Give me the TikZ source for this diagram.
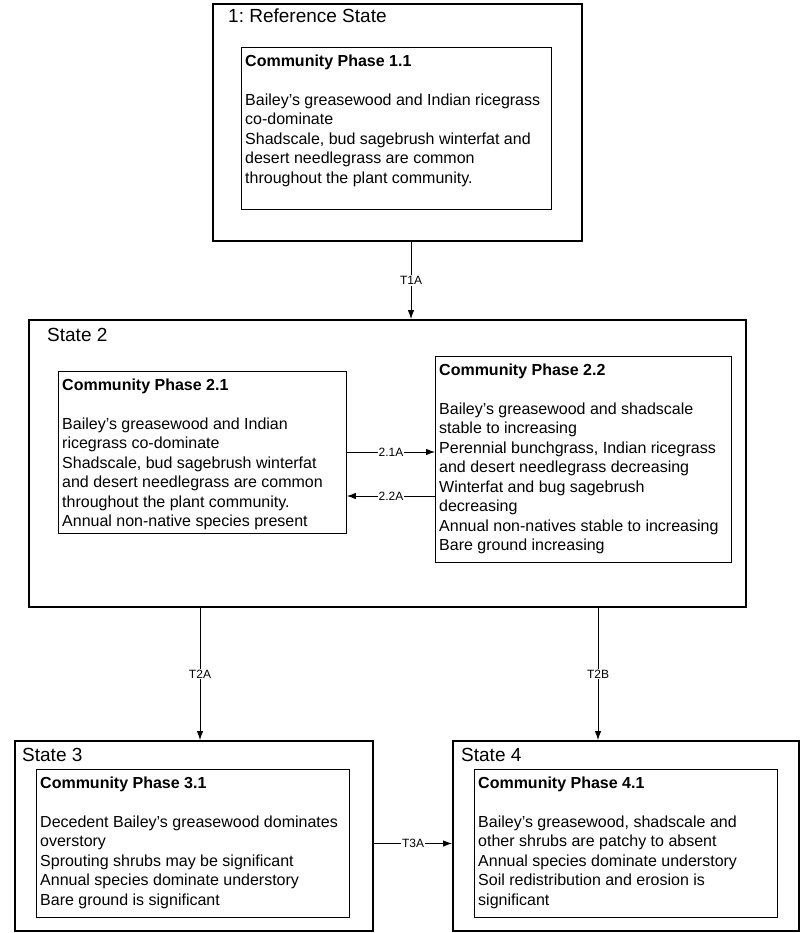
\documentclass[tikz,border=0pt]{standalone}
\usepackage{fontspec}
\setmainfont{Liberation Sans}
\usetikzlibrary{arrows.meta}
\frenchspacing

\tikzset{
  statebox/.style={draw, line width=2.2pt, anchor=north west, inner sep=0pt},
  phasebox/.style={draw, line width=0.9pt, anchor=north west, inner sep=0pt},
  phasetext/.style={anchor=north west, align=left, inner xsep=4pt, inner ysep=7.5pt,
    font=\fontsize{16}{19.5}\selectfont},
  statetitle/.style={anchor=base west, inner sep=0pt, font=\fontsize{19}{22}\selectfont},
  trans/.style={-{Latex[length=9pt,width=6.5pt]}, line width=0.8pt},
  translabel/.style={fill=white, inner sep=1pt, font=\fontsize{12}{13}\selectfont},
}

\begin{document}
\begin{tikzpicture}[x=1pt, y=-1pt]
\useasboundingbox (0,0) rectangle (800,933);
\def\gap{\\[19.5pt]}

% REFERENCE STATE
\node[statebox, minimum width=369pt, minimum height=237pt] (ref) at (212,3) {};
\node[statetitle] (reftitle) at (228,23) {1: Reference State};
\node[phasebox, minimum width=310pt, minimum height=162pt] (cp11) at (241,47) {};
\node[phasetext] (cp11text) at (cp11.north west) {\textbf{Community Phase 1.1}\gap
Bailey's greasewood and Indian ricegrass\\
co-dominate\\
Shadscale, bud sagebrush winterfat and\\
desert needlegrass are common\\
throughout the plant community.};

% STATE 2
\node[statebox, minimum width=717pt, minimum height=287pt] (st2) at (28,319) {};
\node[statetitle] (st2title) at (47,341) {State 2};
\node[phasebox, minimum width=288pt, minimum height=162pt] (cp21) at (58,371) {};
\node[phasetext] (cp21text) at (cp21.north west) {\textbf{Community Phase 2.1}\gap
Bailey's greasewood and Indian\\
ricegrass co-dominate\\
Shadscale, bud sagebrush winterfat\\
and desert needlegrass are common\\
throughout the plant community.\\
Annual non-native species present};
\node[phasebox, minimum width=296pt, minimum height=206pt] (cp22) at (435,356) {};
\node[phasetext] (cp22text) at (cp22.north west) {\textbf{Community Phase 2.2}\gap
Bailey's greasewood and shadscale\\
stable to increasing\\
Perennial bunchgrass, Indian ricegrass\\
and desert needlegrass decreasing\\
Winterfat and bug sagebrush\\
decreasing\\
Annual non-natives stable to increasing\\
Bare ground increasing};

% STATE 3
\node[statebox, minimum width=358pt, minimum height=190pt] (st3) at (14,740) {};
\node[statetitle] (st3title) at (22,761) {State 3};
\node[phasebox, minimum width=313pt, minimum height=148pt] (cp31) at (36,769) {};
\node[phasetext] (cp31text) at (cp31.north west) {\textbf{Community Phase 3.1}\gap
Decedent Bailey's greasewood dominates\\
overstory\\
Sprouting shrubs may be significant\\
Annual species dominate understory\\
Bare ground is significant};

% STATE 4
\node[statebox, minimum width=346pt, minimum height=190pt] (st4) at (452,740) {};
\node[statetitle] (st4title) at (461,761) {State 4};
\node[phasebox, minimum width=303pt, minimum height=148pt] (cp41) at (474,769) {};
\node[phasetext] (cp41text) at (cp41.north west) {\textbf{Community Phase 4.1}\gap
Bailey's greasewood, shadscale and\\
other shrubs are patchy to absent\\
Annual species dominate understory\\
Soil redistribution and erosion is\\
significant};

% TRANSITIONS
\coordinate (t1a) at (411,0);
\coordinate (r21a) at (0,452);
\coordinate (r22a) at (0,496);
\coordinate (t2a) at (200,0);
\coordinate (t2b) at (598,0);
\coordinate (t3a) at (0,843.5);
\draw[trans] (ref.south -| t1a) -- (st2.north -| t1a) node[midway, translabel] {T1A};
\draw[trans] (cp21.east |- r21a) -- (cp22.west |- r21a) node[midway, translabel] {2.1A};
\draw[trans] (cp22.west |- r22a) -- (cp21.east |- r22a) node[midway, translabel] {2.2A};
\draw[trans] (st2.south -| t2a) -- (st3.north -| t2a) node[midway, translabel] {T2A};
\draw[trans] (st2.south -| t2b) -- (st4.north -| t2b) node[midway, translabel] {T2B};
\draw[trans] (st3.east |- t3a) -- (st4.west |- t3a) node[midway, translabel] {T3A};
\end{tikzpicture}
\end{document}
